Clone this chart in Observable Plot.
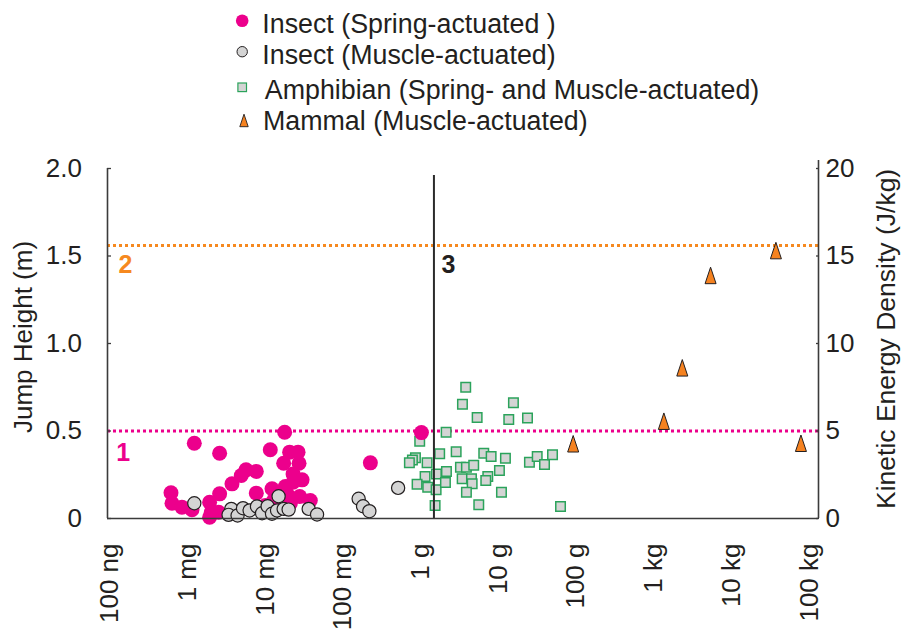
<!DOCTYPE html>
<html>
<head>
<meta charset="utf-8">
<script src="https://cdn.jsdelivr.net/npm/d3@7"></script>
<script src="https://cdn.jsdelivr.net/npm/@observablehq/plot@0.6"></script>
<style>
  html, body { margin: 0; padding: 0; background: #fff; }
  body { width: 902px; height: 629px; overflow: hidden; font-family: "Liberation Sans", Arial, Helvetica, sans-serif; }
  #legend svg, #chart svg { display: block; }
</style>
</head>
<body>
<div id="legend"></div>
<div id="chart"></div>
<script>
// ---------- DATA (x = log10 of body mass in grams, y = jump height in m) ----------
const seriesNames = [
  "Insect (Spring-actuated )",
  "Insect (Muscle-actuated)",
  "Amphibian (Spring- and Muscle-actuated)",
  "Mammal (Muscle-actuated)"
];

const springLogMass = [-2.913, -2.587, -1.750, -1.935, -1.686, -1.578, -1.565, -1.763, -2.247, -2.115,
  -2.308, -1.642, -1.526, -2.428, -1.642, -3.213, -2.587, -2.115, -1.913, -1.741,
  -1.720, -1.557, -1.420, -3.200, -3.072, -2.943, -2.716, -2.694, -2.716, -2.600,
  -1.892, -1.998, -1.677, -0.647, 0.010];
const springHeight = [0.430, 0.373, 0.493, 0.393, 0.379, 0.379, 0.316, 0.316, 0.278, 0.269,
  0.246, 0.255, 0.221, 0.198, 0.207, 0.147, 0.141, 0.145, 0.170, 0.183,
  0.141, 0.126, 0.103, 0.087, 0.065, 0.050, 0.093, 0.036, 0.007, 0.036,
  0.103, 0.074, 0.086, 0.318, 0.491];

const muscleLogMass = [-2.913, -1.828, -2.437, -2.472, -2.356, -2.286, -2.201, -2.106, -2.041, -1.969,
  -1.913, -1.848, -1.763, -1.699, -1.441, -1.333, -0.798, -0.741, -0.660, -0.290];
const muscleHeight = [0.087, 0.127, 0.055, 0.021, 0.017, 0.059, 0.046, 0.069, 0.030, 0.070,
  0.027, 0.046, 0.055, 0.051, 0.055, 0.023, 0.113, 0.070, 0.042, 0.175];

const amphLogMass = [0.580, 0.538, 1.194, 0.727, 1.134, 1.375, 0.328, -0.012, -0.067, -0.106,
  -0.145, 0.083, 0.245, 0.457, 0.812, 0.907, 1.091, 1.400, 1.500, 1.594,
  1.697, 0.057, -0.046, 0.091, 0.203, 0.199, 0.332, 0.319, 0.512, 0.589,
  0.683, 0.534, 0.654, 0.663, 0.864, 0.838, 1.014, 0.589, 1.040, 0.186,
  0.748, 1.800];
const amphHeight = [0.750, 0.653, 0.661, 0.577, 0.566, 0.575, 0.493, 0.442, 0.347, 0.334,
  0.318, 0.318, 0.370, 0.381, 0.373, 0.354, 0.345, 0.322, 0.354, 0.309,
  0.364, 0.240, 0.196, 0.179, 0.255, 0.164, 0.269, 0.206, 0.293, 0.293,
  0.305, 0.227, 0.227, 0.198, 0.240, 0.217, 0.274, 0.150, 0.150, 0.074,
  0.078, 0.069];

const mammalLogMass = [1.963, 3.130, 3.367, 3.731, 4.572, 4.894];
const mammalHeight = [0.427, 0.556, 0.861, 1.389, 1.531, 0.430];

// axes
const xTickValues = [-4, -3, -2, -1, 0, 1, 2, 3, 4, 5];
const xTickLabels = ["100 ng", "1 mg", "10 mg", "100 mg", "1 g", "10 g", "100 g", "1 kg", "10 kg", "100 kg"];
const yTickValues = [0, 0.5, 1, 1.5, 2];
const yTickLabels = ["0", "0.5", "1.0", "1.5", "2.0"];
const keTickValues = [0, 5, 10, 15, 20];       // J/kg, = 10 x jump height
const yTitle = "Jump Height (m)";
const yRightTitle = "Kinetic Energy Density (J/kg)";

// reference lines and annotations
const limitHeights = [0.5, 1.56];              // 1: pink, 2: orange
const dividerLogMass = [0.171];
const dividerTop = [1.96];
const annotLabels = ["1", "2", "3"];
const annotLogMass = [-3.918, -3.89, 0.267];
const annotHeight = [0.377, 1.451, 1.451];

// ---------- STYLE ----------
const FONT = '"Liberation Sans", Arial, Helvetica, sans-serif';
const INK = "#231f20";
const PINK = "#ec008c";
const ORANGE = "#f6891f";
const TRI_FILL = "#f58220";
const GRAY = "#d4d4d4";
const GREEN = "#2ba35b";
const AXIS = "#3b3b3b";
const annotColors = [PINK, ORANGE, "#231f20"];

const tallTriangle = {
  draw(context, size) {
    const s = Math.sqrt(size / Math.PI);
    context.moveTo(0, -1.5 * s);
    context.lineTo(s, 1.5 * s);
    context.lineTo(-s, 1.5 * s);
    context.closePath();
  }
};

const zip = (xs, ys) => xs.map((x, i) => ({x, y: ys[i]}));
const spring = zip(springLogMass, springHeight);
const muscle = zip(muscleLogMass, muscleHeight);
const amph = zip(amphLogMass, amphHeight);
const mammal = zip(mammalLogMass, mammalHeight);

const xLabelMap = new Map(xTickValues.map((v, i) => [v, xTickLabels[i]]));
const yLabelMap = new Map(yTickValues.map((v, i) => [v, yTickLabels[i]]));
const keTickPos = keTickValues.map(k => k / 10);
const keLabelMap = new Map(keTickPos.map((v, i) => [v, String(keTickValues[i])]));

const xDomain = [-4.03, 5.12];

// ---------- LEGEND (above the plot) ----------
const legend = d3.select("#legend").append("svg")
  .attr("width", 902).attr("height", 145)
  .style("font-family", FONT);
const rows = [
  {my: 20.7, base: 32.7, tx: 262.3},
  {my: 51.7, base: 64.0, tx: 262.3},
  {my: 87.3, base: 99.0, tx: 264.8},
  {my: 120.7, base: 130.0, tx: 263.0}
];
// markers
legend.append("circle").attr("cx", 242.2).attr("cy", rows[0].my).attr("r", 6.3).attr("fill", PINK);
legend.append("circle").attr("cx", 242.2).attr("cy", rows[1].my).attr("r", 5.2)
  .attr("fill", GRAY).attr("stroke", INK).attr("stroke-width", 1);
legend.append("rect").attr("x", 242.2 - 4.3).attr("y", rows[2].my - 4.3).attr("width", 8.6).attr("height", 8.6)
  .attr("fill", GRAY).attr("stroke", GREEN).attr("stroke-width", 1.2);
legend.append("path").attr("transform", `translate(244,${rows[3].my})`)
  .attr("d", "M0,-6.5L4.2,6L-4.2,6Z").attr("fill", TRI_FILL).attr("stroke", INK).attr("stroke-width", 0.9);
rows.forEach((r, i) => {
  legend.append("text").attr("x", r.tx).attr("y", r.base)
    .attr("font-size", 26.8).attr("fill", INK).text(seriesNames[i]);
});

// ---------- PLOT ----------
const dotted = {strokeWidth: 3, strokeDasharray: "3,3"};
const chart = Plot.plot({
  width: 902,
  height: 484,
  marginTop: 23,
  marginBottom: 111,
  marginLeft: 107,
  marginRight: 84,
  style: {fontFamily: FONT, fontSize: "26px", color: INK, background: "#fff", overflow: "visible"},
  x: {type: "linear", domain: xDomain, label: null},
  y: {domain: [0, 2], label: null},
  marks: [
    Plot.ruleY([limitHeights[1]], {stroke: ORANGE, ...dotted}),
    Plot.ruleY([limitHeights[0]], {stroke: PINK, ...dotted}),
    Plot.dot(amph, {x: "x", y: "y", symbol: "square", r: 5.36, fill: GRAY, stroke: GREEN, strokeWidth: 1.5}),
    Plot.dot(spring, {x: "x", y: "y", r: 7.5, fill: PINK}),
    Plot.dot(muscle, {x: "x", y: "y", r: 6.6, fill: GRAY, stroke: INK, strokeWidth: 1.2}),
    Plot.ruleX(dividerLogMass, {y1: 0, y2: dividerTop[0], stroke: "#2b2b2b", strokeWidth: 2}),
    Plot.dot(mammal, {x: "x", y: "y", symbol: tallTriangle, r: 5.5, fill: TRI_FILL, stroke: INK, strokeWidth: 1}),
    // axis lines
    Plot.ruleY([0], {stroke: AXIS, strokeWidth: 1.6}),
    Plot.ruleX([xDomain[0]], {y1: 0, y2: 2, stroke: AXIS, strokeWidth: 1.6}),
    Plot.ruleX([xDomain[1]], {y1: 0, y2: 2.046, stroke: AXIS, strokeWidth: 1.6}),
    // axes
    Plot.axisX({ticks: xTickValues, tickFormat: d => xLabelMap.get(d), tickRotate: -90, tickSize: 0, tickPadding: 25, fontSize: 26, fill: INK, label: null}),
    Plot.axisY({anchor: "left", ticks: yTickValues, tickFormat: d => yLabelMap.get(d), tickSize: 4, tickPadding: 25.5, dx: 4, stroke: AXIS, strokeWidth: 1.3, fontSize: 26, fill: INK, label: null}),
    Plot.axisY({anchor: "right", ticks: keTickPos, tickFormat: d => keLabelMap.get(d), tickSize: 3, tickPadding: 7, dx: -3, stroke: AXIS, strokeWidth: 1.3, fontSize: 26, fill: INK, label: null}),
    // axis titles
    Plot.text([yTitle], {text: d => d, frameAnchor: "left", rotate: -90, dx: -83.6, dy: -6.5, fontSize: 26, fill: INK, textAnchor: "middle", lineAnchor: "middle"}),
    Plot.text([yRightTitle], {text: d => d, frameAnchor: "right", rotate: -90, dx: 68.3, dy: -4.6, fontSize: 26.5, fill: INK, textAnchor: "middle", lineAnchor: "middle"}),
    // annotations
    ...annotLabels.map((t, i) => Plot.text([t], {
      x: [annotLogMass[i]], y: [annotHeight[i]], text: d => d,
      fill: annotColors[i], fontWeight: "bold", fontSize: 25, textAnchor: "start", lineAnchor: "middle"
    }))
  ]
});
document.getElementById("chart").appendChild(chart);
</script>
</body>
</html>
